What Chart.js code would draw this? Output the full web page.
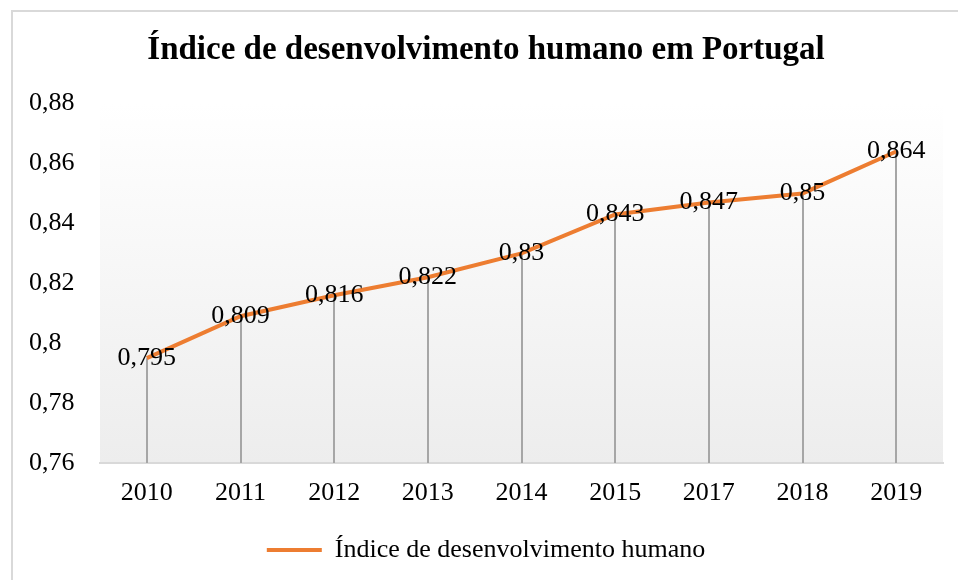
<!DOCTYPE html>
<html>
<head>
<meta charset="utf-8">
<script src="https://cdn.jsdelivr.net/npm/chart.js@4"></script>
<style>
  html, body { margin: 0; padding: 0; background: #fff; }
  #wrap { position: relative; width: 958px; height: 580px; }
</style>
</head>
<body>
<div id="wrap"><canvas id="myChart" width="958" height="580"></canvas></div>
<script>
var anos = ['2010', '2011', '2012', '2013', '2014', '2015', '2017', '2018', '2019'];
var idh = [0.795, 0.809, 0.816, 0.822, 0.83, 0.843, 0.847, 0.85, 0.864];
var yTicks = ['0,76', '0,78', '0,8', '0,82', '0,84', '0,86', '0,88'];

var fonte = "'Liberation Serif', 'Times New Roman', serif";

// moldura cinza e fundo em degradê da área do gráfico
var fundo = {
    id: 'fundo',
    beforeDraw: (chart) => {
        var ctx = chart.ctx;
        var a = chart.chartArea;
        ctx.save();
        ctx.strokeStyle = '#d9d9d9';
        ctx.lineWidth = 2;
        ctx.beginPath();
        ctx.moveTo(12, 580);
        ctx.lineTo(12, 11);
        ctx.lineTo(958, 11);
        ctx.stroke();
        var grad = ctx.createLinearGradient(0, a.top, 0, a.bottom);
        grad.addColorStop(0, '#ffffff');
        grad.addColorStop(1, '#ededed');
        ctx.fillStyle = grad;
        ctx.fillRect(a.left, a.top, a.right - a.left, a.bottom - a.top);
        ctx.restore();
    },
    // linhas de queda de cada ponto até o eixo
    beforeDatasetsDraw: (chart) => {
        var ctx = chart.ctx;
        var meta = chart.getDatasetMeta(0);
        var base = chart.scales.y.bottom;
        ctx.save();
        ctx.strokeStyle = '#a6a6a6';
        ctx.lineWidth = 2;
        meta.data.forEach((p) => {
            ctx.beginPath();
            ctx.moveTo(Math.round(p.x), p.y);
            ctx.lineTo(Math.round(p.x), base);
            ctx.stroke();
        });
        ctx.restore();
    },
    afterDatasetsDraw: (chart) => {
        var ctx = chart.ctx;
        var meta = chart.getDatasetMeta(0);
        ctx.save();
        ctx.fillStyle = '#000';
        ctx.font = '26px ' + fonte;
        ctx.textAlign = 'center';
        ctx.textBaseline = 'middle';
        meta.data.forEach((p, i) => {
            ctx.fillText(String(idh[i]).replace('.', ','), p.x, p.y);
        });
        ctx.restore();
    }
};

var ctx = document.getElementById('myChart').getContext('2d');
var myChart = new Chart(ctx, {
    type: 'line',
    data: {
        labels: anos,
        datasets: [{
            label: 'Índice de desenvolvimento humano',
            data: idh,
            borderColor: '#ed7d31',
            backgroundColor: '#ed7d31',
            borderWidth: 4,
            pointRadius: 0,
            fill: false,
            tension: 0
        }]
    },
    options: {
        responsive: false,
        animation: false,
        layout: {
            padding: { left: 29, right: 15, top: 0, bottom: 7 }
        },
        plugins: {
            title: {
                display: true,
                text: 'Índice de desenvolvimento humano em Portugal',
                color: '#000',
                font: { family: fonte, size: 33, weight: 'bold' },
                padding: { top: 31, bottom: 33 }
            },
            legend: {
                position: 'bottom',
                labels: {
                    color: '#000',
                    font: { family: fonte, size: 26 },
                    usePointStyle: true,
                    pointStyle: 'line',
                    pointStyleWidth: 55,
                    padding: 10
                }
            },
            tooltip: { enabled: false }
        },
        scales: {
            x: {
                offset: true,
                grid: { display: false, drawTicks: false },
                border: { color: '#d9d9d9', width: 2 },
                ticks: {
                    color: '#000',
                    font: { family: fonte, size: 26 },
                    padding: 15
                },
                afterFit: (scale) => { scale.height = 64; }
            },
            y: {
                min: 0.76,
                max: 0.88,
                grid: { display: false, drawTicks: false },
                border: { display: false },
                ticks: {
                    stepSize: 0.02,
                    color: '#000',
                    font: { family: fonte, size: 26 },
                    crossAlign: 'far',
                    callback: (value, index) => yTicks[index]
                },
                afterFit: (scale) => { scale.width = 71; }
            }
        }
    },
    plugins: [fundo]
});
</script>
</body>
</html>
